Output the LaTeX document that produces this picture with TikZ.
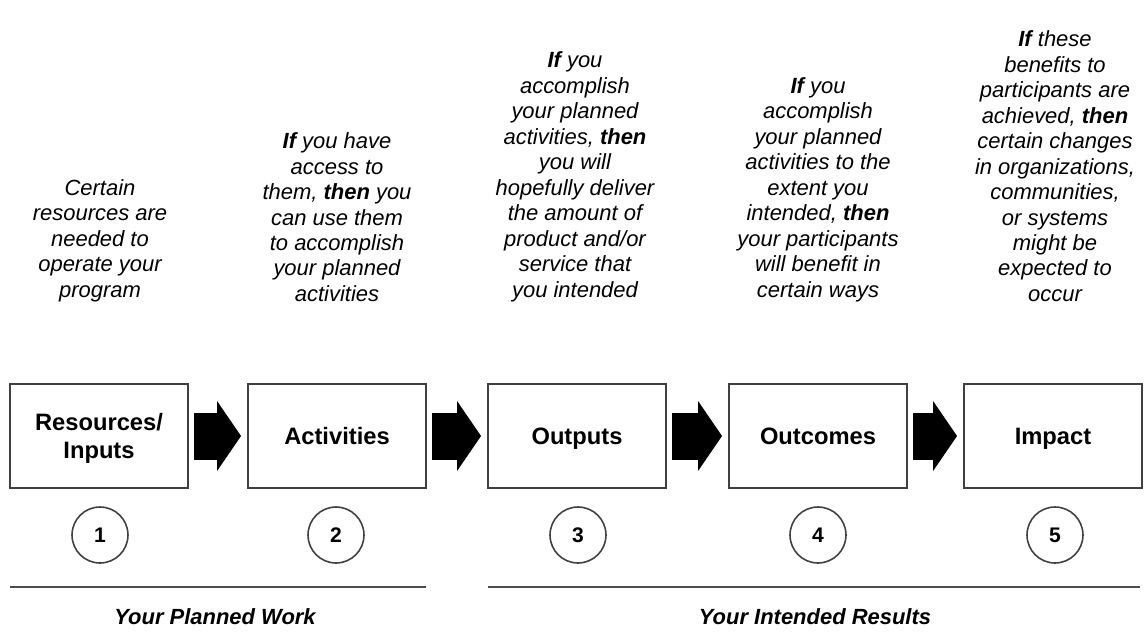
\documentclass[tikz,border=0pt]{standalone}
\usepackage{fontspec}
\setmainfont{Liberation Sans}
\usetikzlibrary{arrows.meta}
\begin{document}
\begin{tikzpicture}[x=0.02cm,y=-0.02cm,every node/.style={inner sep=0pt},
  box/.style={draw=black!75,line width=1.1pt,minimum width=3.56cm,minimum height=2.08cm,align=center,text depth=0pt,font=\fontsize{13.5}{16}\selectfont\bfseries},
  note/.style={anchor=south,align=center,font=\fontsize{12.5}{14.5}\selectfont\itshape},
  num/.style={circle,draw=black!75,line width=0.9pt,minimum size=1.12cm,font=\fontsize{12}{14}\selectfont\bfseries},
  flow/.style={line width=0.94cm,-{Triangle[length=0.48cm,width=1.4cm,line width=0pt]},shorten <=0.1cm,shorten >=0.12cm},
  rule/.style={draw=black!70,line width=0.7pt},
  group/.style={font=\fontsize{12.5}{15}\selectfont\bfseries\itshape}]
\useasboundingbox (0,0) rectangle (1144,637);
\node[note] (t1) at (100, 302) {Certain\\resources are\\needed to\\operate your\\program};
\node[note] (t2) at (337, 302) {{\bfseries If} you have\\access to\\them, {\bfseries then} you\\can use them\\to accomplish\\your planned\\activities};
\node[note] (t3) at (575, 302) {{\bfseries If} you\\accomplish\\your planned\\activities, {\bfseries then}\\you will\\hopefully deliver\\the amount of\\product and/or\\service that\\you intended};
\node[note] (t4) at (818, 302) {{\bfseries If} you\\accomplish\\your planned\\activities to the\\extent you\\intended, {\bfseries then}\\your participants\\will benefit in\\certain ways};
\node[note] (t5) at (1055, 302) {{\bfseries If} these\\benefits to\\participants are\\achieved, {\bfseries then}\\certain changes\\in organizations,\\communities,\\or systems\\might be\\expected to\\occur};
\node[box] (b1) at (99, 436) {Resources/\\Inputs};
\node[box] (b2) at (337, 436) {Activities};
\node[box] (b3) at (577, 436) {Outputs};
\node[box] (b4) at (818, 436) {Outcomes};
\node[box] (b5) at (1053, 436) {Impact};
\draw[flow] (b1) -- (b2);
\draw[flow] (b2) -- (b3);
\draw[flow] (b3) -- (b4);
\draw[flow] (b4) -- (b5);
\node[num] (n1) at (100, 535) {1};
\node[num] (n2) at (336, 535) {2};
\node[num] (n3) at (578, 535) {3};
\node[num] (n4) at (818, 535) {4};
\node[num] (n5) at (1055, 535) {5};
\coordinate (w1) at (10, 587);
\coordinate (w2) at (426, 587);
\coordinate (r1) at (488, 587);
\coordinate (r2) at (1140, 587);
\draw[rule] (w1) -- (w2);
\draw[rule] (r1) -- (r2);
\node[group] (g1) at (215, 617) {Your Planned Work};
\node[group] (g2) at (815, 617) {Your Intended Results};
\end{tikzpicture}
\end{document}
